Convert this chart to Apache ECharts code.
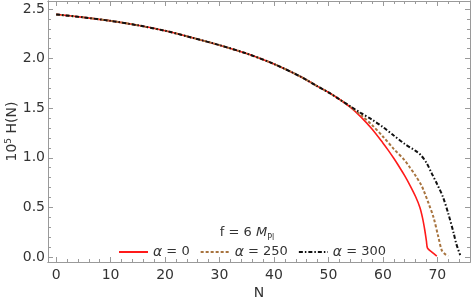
<!DOCTYPE html>
<html>
<head>
<meta charset="utf-8">
<script src="https://cdn.jsdelivr.net/npm/echarts@6/dist/echarts.min.js"></script>
<style>html,body{margin:0;padding:0;background:#fff}#c{width:471px;height:303px}</style>
</head>
<body>
<div id="c"></div>
<script>
// Shared early part of all three curves
const nCommon = [0, 5, 10, 15, 20, 25, 30, 35, 40, 45, 48, 50, 52];
const hCommon = [2.445, 2.415, 2.38, 2.335, 2.28, 2.21, 2.135, 2.05, 1.945, 1.815, 1.72, 1.66, 1.59];
// Tails (alpha = 0, 250, 300)
const nRed = [54, 56, 58, 60, 61, 62, 63, 64, 65, 66, 66.8, 67.3, 67.7, 68, 68.2, 69, 69.9];
const hRed = [1.51, 1.41, 1.29, 1.15, 1.075, 0.995, 0.91, 0.82, 0.72, 0.61, 0.5, 0.39, 0.27, 0.16, 0.09, 0.05, 0.01];
const nBrown = [54, 56, 58, 60, 62, 64, 65, 66, 67, 67.5, 68.4, 69.3, 70.2, 70.8, 71.4, 72.0];
const hBrown = [1.515, 1.43, 1.33, 1.215, 1.09, 0.975, 0.90, 0.82, 0.73, 0.67, 0.54, 0.40, 0.2, 0.07, 0.03, 0.01];
const nBlack = [54, 56, 58, 60, 62, 64, 66, 67, 68, 69, 70, 71, 72, 73, 73.5, 74.2];
const hBlack = [1.52, 1.45, 1.385, 1.31, 1.225, 1.14, 1.07, 1.025, 0.95, 0.84, 0.73, 0.61, 0.44, 0.24, 0.13, 0.02];
const seriesNames = ['α = 0', 'α = 250', 'α = 300'];
const xMajor = [0, 10, 20, 30, 40, 50, 60, 70];
const xMinor = [0,2,4,6,8,10,12,14,16,18,20,22,24,26,28,30,32,34,36,38,40,42,44,46,48,50,52,54,56,58,60,62,64,66,68,70,72,74,76];
const yMajor = [0, 0.5, 1.0, 1.5, 2.0, 2.5];
const yMinor = [0,0.1,0.2,0.3,0.4,0.5,0.6,0.7,0.8,0.9,1.0,1.1,1.2,1.3,1.4,1.5,1.6,1.7,1.8,1.9,2.0,2.1,2.2,2.3,2.4,2.5];

function pairs(ns, hs) { return ns.map((n, i) => [n, hs[i]]); }
const common = pairs(nCommon, hCommon);
const dRed = common.concat(pairs(nRed, hRed));
const dBrown = common.concat(pairs(nBrown, hBrown));
const dBlack = common.concat(pairs(nBlack, hBlack));

const FONT = 'DejaVu Sans';
const AX = '#9a9a9a';
const TXT = '#333';
const XR = [-1.5, 76], YR = [-0.05, 2.58];

function xAx(pos, vals, len, labels, extra) {
  return Object.assign({
    type: 'value', position: pos, min: XR[0], max: XR[1],
    axisLine: { show: true, onZero: false, lineStyle: { color: AX, width: 1 } },
    axisTick: { show: true, inside: true, length: len, customValues: vals, lineStyle: { color: AX } },
    axisLabel: labels ? { show: true, customValues: xMajor, margin: 6, color: TXT, fontFamily: FONT, fontSize: 14 } : { show: false },
    splitLine: { show: false }
  }, extra || {});
}
function yAx(pos, vals, len, labels, extra) {
  return Object.assign({
    type: 'value', position: pos, min: YR[0], max: YR[1],
    axisLine: { show: true, onZero: false, lineStyle: { color: AX, width: 1 } },
    axisTick: { show: true, inside: true, length: len, customValues: vals, lineStyle: { color: AX } },
    axisLabel: labels ? { show: true, customValues: yMajor, margin: 3, color: TXT, fontFamily: FONT, fontSize: 14,
      formatter: v => v.toFixed(1) } : { show: false },
    splitLine: { show: false }
  }, extra || {});
}

const chart = echarts.init(document.getElementById('c'), null, { renderer: 'canvas' });
chart.setOption({
  animation: false,
  backgroundColor: '#fff',
  grid: { left: 48, right: 1, top: 1, bottom: 41, containLabel: false, outerBoundsMode: 'none' },
  xAxis: [
    xAx('bottom', xMajor, 5, true, { name: 'N', nameLocation: 'middle', nameGap: 24, nameMoveOverlap: false,
      nameTextStyle: { color: TXT, fontFamily: FONT, fontSize: 14 } }),
    xAx('bottom', xMinor, 3, false),
    xAx('top', xMajor, 5, false),
    xAx('top', xMinor, 3, false)
  ],
  yAxis: [
    yAx('left', yMajor, 5, true, { name: '{a|10}{s|5}{a| H(N)}', nameLocation: 'middle', nameGap: 28, nameMoveOverlap: false,
      nameTextStyle: { color: TXT, fontFamily: FONT, fontSize: 14,
        rich: { a: { fontFamily: FONT, fontSize: 14, color: TXT, lineHeight: 16 },
                s: { fontFamily: FONT, fontSize: 9, color: TXT, lineHeight: 9, verticalAlign: 'top' } } } }),
    yAx('left', yMinor, 3, false),
    yAx('right', yMajor, 5, false),
    yAx('right', yMinor, 3, false)
  ],
  legend: {
    left: 113, top: 240, itemWidth: 29, itemHeight: 12, itemGap: 10,
    data: seriesNames,
    itemStyle: { opacity: 0 },
    formatter: name => '{i|α}{t|' + name.slice(1) + '}',
    textStyle: { color: TXT, fontFamily: FONT, fontSize: 13,
      rich: { i: { fontFamily: FONT, fontStyle: 'italic', fontSize: 14, color: TXT },
              t: { fontFamily: FONT, fontSize: 13, color: TXT } } }
  },
  graphic: [{
    type: 'text', x: 247, y: 233,
    style: {
      text: '{a|f = 6 }{m|M}{s|Pl}',
      align: 'center', verticalAlign: 'middle',
      rich: { a: { fontFamily: FONT, fontSize: 13, fill: TXT, lineHeight: 18 },
              m: { fontFamily: FONT, fontSize: 13, fontStyle: 'italic', fill: TXT, lineHeight: 18 },
              s: { fontFamily: FONT, fontSize: 8, fill: TXT, lineHeight: 10, verticalAlign: 'bottom' } }
    }
  }],
  series: [
    { name: seriesNames[0], type: 'line', data: dRed, showSymbol: false, symbol: 'none', smooth: 0.3,
      lineStyle: { color: '#ff1a1a', width: 1.6, type: 'solid' }, itemStyle: { color: '#ff1a1a' }, z: 2 },
    { name: seriesNames[1], type: 'line', data: dBrown, showSymbol: false, symbol: 'none', smooth: 0.3,
      lineStyle: { color: '#a8743f', width: 2, type: [3, 2] }, itemStyle: { color: '#a8743f' }, z: 3 },
    { name: seriesNames[2], type: 'line', data: dBlack, showSymbol: false, symbol: 'none', smooth: 0.3,
      lineStyle: { color: '#111', width: 2, type: [4, 2, 1.5, 2] }, itemStyle: { color: '#111' }, z: 4 }
  ]
});
</script>
</body>
</html>
